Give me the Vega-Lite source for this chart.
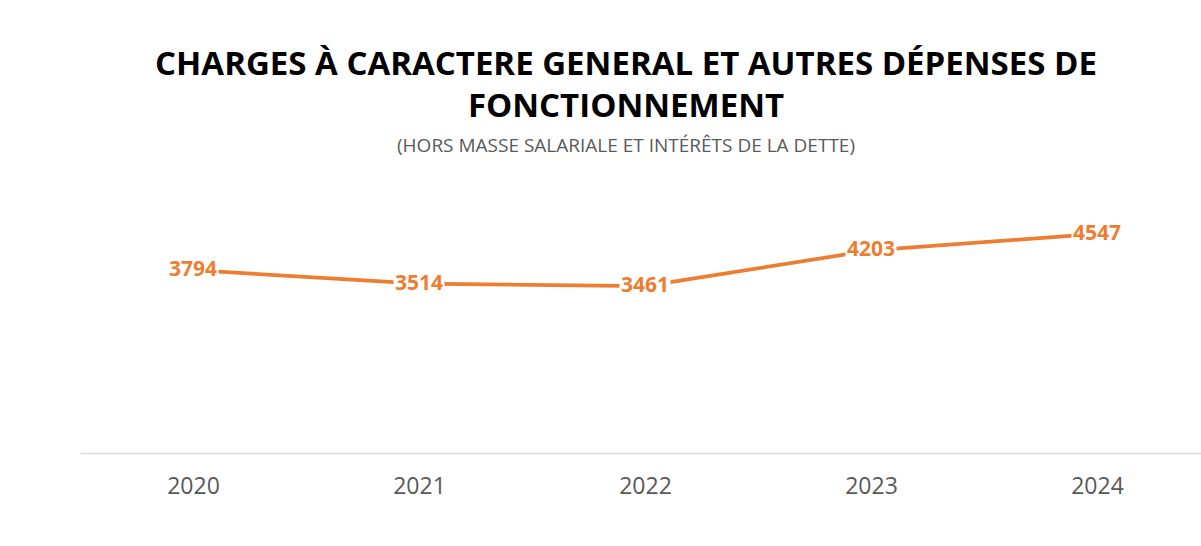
{
  "$schema": "https://vega.github.io/schema/vega-lite/v6.json",
  "autosize": {"type": "none"},
  "width": 1130,
  "height": 241,
  "padding": {"left": 80, "top": 212, "right": 0, "bottom": 93},
  "background": "white",
  "config": {"view": {"stroke": null}, "font": "Open Sans"},
  "title": {
    "text": ["CHARGES À CARACTERE GENERAL ET AUTRES DÉPENSES DE", "FONCTIONNEMENT"],
    "subtitle": "(HORS MASSE SALARIALE ET INTÉRÊTS DE LA DETTE)",
    "anchor": "middle",
    "frame": "group",
    "dx": -19,
    "offset": 56,
    "font": "Open Sans",
    "fontSize": 33,
    "fontWeight": "bold",
    "color": "#000000",
    "lineHeight": 42,
    "subtitleFont": "Open Sans",
    "subtitleFontSize": 19,
    "subtitleColor": "#595959",
    "subtitlePadding": 13
  },
  "data": {
    "values": [
      {"year": "2020", "value": 3794},
      {"year": "2021", "value": 3514},
      {"year": "2022", "value": 3461},
      {"year": "2023", "value": 4203},
      {"year": "2024", "value": 4547}
    ]
  },
  "encoding": {
    "x": {
      "field": "year",
      "type": "ordinal",
      "scale": {"type": "point", "padding": 0.5},
      "axis": {
        "title": null,
        "labelAngle": 0,
        "ticks": false,
        "grid": false,
        "domainColor": "#D9D9D9",
        "domainWidth": 1.5,
        "labelColor": "#595959",
        "labelFontSize": 23,
        "labelFont": "Open Sans",
        "labelPadding": 22
      }
    },
    "y": {
      "field": "value",
      "type": "quantitative",
      "scale": {"domain": [0, 5000], "nice": false, "zero": true},
      "axis": null
    }
  },
  "layer": [
    {
      "mark": {"type": "line", "color": "#ED7D31", "strokeWidth": 3.75, "strokeCap": "round", "strokeJoin": "round"}
    },
    {
      "mark": {"type": "point", "shape": "M-1,-0.42H1V0.42H-1Z", "size": 2600, "filled": true, "fill": "white", "strokeWidth": 0, "opacity": 1}
    },
    {
      "mark": {"type": "text", "color": "#ED7D31", "font": "Open Sans", "fontWeight": "bold", "fontSize": 21, "baseline": "middle", "align": "center"},
      "encoding": {"text": {"field": "value", "type": "quantitative", "format": "d"}}
    }
  ]
}
